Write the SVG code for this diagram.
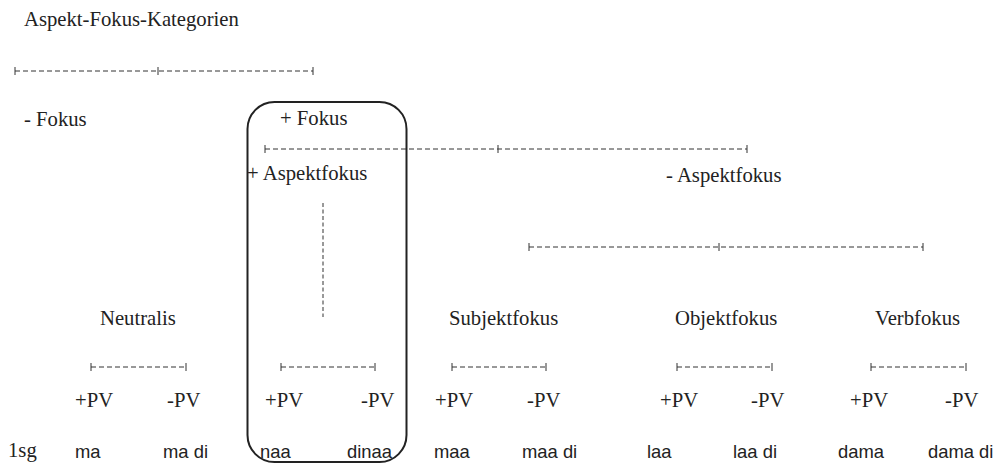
<svg xmlns="http://www.w3.org/2000/svg" width="999" height="464" viewBox="0 0 999 464">
<style>
.s{font-family:"Liberation Serif","Times New Roman",serif;font-size:20.7px;fill:#222}
.a{font-family:"Liberation Sans",Arial,sans-serif;font-size:18.4px;fill:#222}
.d{stroke:#333;stroke-width:1;fill:none;stroke-dasharray:5,3}
.t{stroke:#333;stroke-width:1;fill:none}
.box{stroke:#222;stroke-width:2;fill:none}
</style>
<rect width="999" height="464" fill="#fff"/>
<g id="title"><text class="s" x="24" y="26">Aspekt-Fokus-Kategorien</text></g>
<g id="box-plus-aspektfokus"><rect class="box" x="247.5" y="102" width="159" height="360" rx="27" ry="27"/></g>
<g id="connectors">
  <path class="d" d="M15 71H313"/>
  <path class="t" d="M15 67v8M158 67v8M313 67v8"/>
  <path class="d" d="M265 149H747"/>
  <path class="t" d="M265 145v8M498 145v8M747 145v8"/>
  <path class="d" d="M529 247H923"/>
  <path class="t" d="M529 243v8M719 243v8M923 243v8"/>
  <path class="d" d="M323 203V317" style="stroke-dasharray:4,2.5"/>
  <path class="d" d="M91 367H186M281 367H375M452 367H546M677 367H772M871 367H966"/>
  <path class="t" d="M91 363v8M186 363v8M281 363v8M375 363v8M452 363v8M546 363v8M677 363v8M772 363v8M871 363v8M966 363v8"/>
</g>
<g id="minus-fokus"><text class="s" x="24" y="126">- Fokus</text></g>
<g id="plus-fokus"><text class="s" x="280" y="125">+ Fokus</text></g>
<g id="plus-aspektfokus"><text class="s" x="247" y="180">+ Aspektfokus</text></g>
<g id="minus-aspektfokus"><text class="s" x="666" y="182">- Aspektfokus</text></g>
<g id="neutralis"><text class="s" x="100" y="325">Neutralis</text></g>
<g id="subjektfokus"><text class="s" x="449" y="325">Subjektfokus</text></g>
<g id="objektfokus"><text class="s" x="675" y="325">Objektfokus</text></g>
<g id="verbfokus"><text class="s" x="875" y="325">Verbfokus</text></g>
<g id="pv-row">
  <text class="s" x="75" y="407">+PV</text><text class="s" x="167" y="407">-PV</text>
  <text class="s" x="265" y="407">+PV</text><text class="s" x="361" y="407">-PV</text>
  <text class="s" x="435" y="407">+PV</text><text class="s" x="527" y="407">-PV</text>
  <text class="s" x="660" y="407">+PV</text><text class="s" x="751" y="407">-PV</text>
  <text class="s" x="850" y="407">+PV</text><text class="s" x="945" y="407">-PV</text>
</g>
<g id="sg-row">
  <text class="s" x="8" y="457">1sg</text>
  <text class="a" x="75" y="458">ma</text><text class="a" x="163" y="458">ma di</text>
  <text class="a" x="260" y="458">naa</text><text class="a" x="347" y="458">dinaa</text>
  <text class="a" x="434" y="458">maa</text><text class="a" x="522" y="458">maa di</text>
  <text class="a" x="647" y="458">laa</text><text class="a" x="733" y="458">laa di</text>
  <text class="a" x="838" y="458">dama</text><text class="a" x="928" y="458">dama di</text>
</g>
</svg>
